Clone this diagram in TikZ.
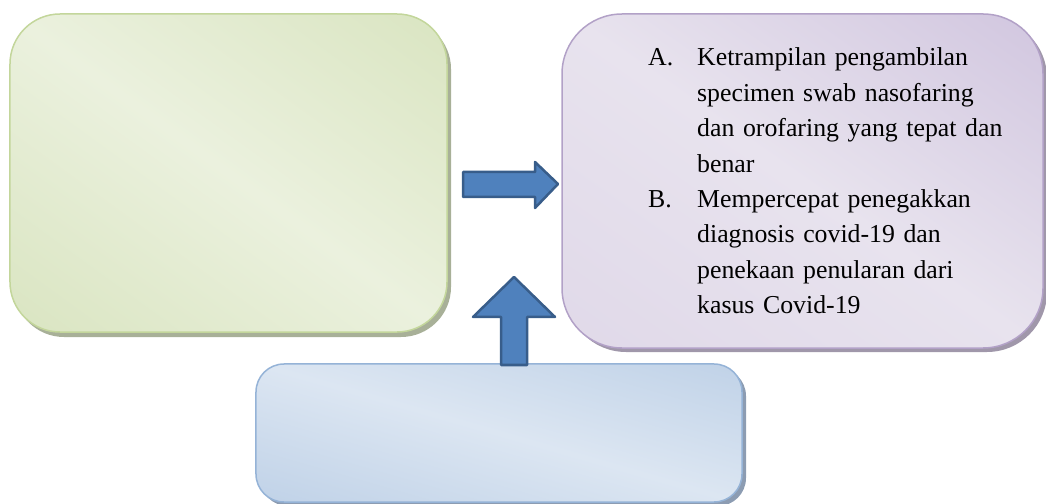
\documentclass[tikz,border=0pt]{standalone}
\usepackage{fontspec}
\setmainfont{Liberation Serif}
\usetikzlibrary{shadows}
\definecolor{gLight}{HTML}{EBF1DE}
\definecolor{gDark}{HTML}{C9D9A6}
\definecolor{gLine}{HTML}{C3D69B}
\definecolor{gShadow}{HTML}{A8B098}
\definecolor{pLight}{HTML}{E8E3EE}
\definecolor{pDark}{HTML}{BBAAD1}
\definecolor{pLine}{HTML}{B2A1C7}
\definecolor{pShadow}{HTML}{A097AA}
\definecolor{bLight}{HTML}{DCE6F2}
\definecolor{bDark}{HTML}{A4BEDD}
\definecolor{bLine}{HTML}{95B3D7}
\definecolor{bShadow}{HTML}{8C9CB2}
\definecolor{arrFill}{HTML}{4F81BD}
\definecolor{arrLine}{HTML}{385D8A}
\tikzset{
  panel/.style={draw, line width=1.5bp, inner sep=0pt},
  diagshade/.style n args={5}{path picture={%
    \shade[transform canvas={rotate around={#1:(path picture bounding box.center)}},
      top color=#3, bottom color=#4, middle color=#5]
      (path picture bounding box.center) ++(-#2,-#2) rectangle ++(2*#2,2*#2);}},
  greenbox/.style={panel, draw=gLine, diagshade={-36}{500}{gDark}{gDark}{gLight},
    rounded corners=50bp, minimum width=437bp, minimum height=318bp,
    drop shadow={shadow xshift=4bp, shadow yshift=-5bp, fill=gShadow, opacity=1}},
  purplebox/.style={panel, draw=pLine, diagshade={-35}{540}{pDark}{pLight!65!pDark}{pLight},
    rounded corners=60bp, minimum width=481bp, minimum height=334bp,
    drop shadow={shadow xshift=4bp, shadow yshift=-4bp, fill=pShadow, opacity=1}},
  bluebox/.style={panel, draw=bLine, diagshade={-16}{265}{bDark}{bDark}{bLight},
    rounded corners=28bp, minimum width=486bp, minimum height=138bp,
    drop shadow={shadow xshift=4bp, shadow yshift=-4bp, fill=bShadow, opacity=1}},
  blockarrow/.style={draw=arrLine, fill=arrFill, line width=2.5bp, line join=round},
  listtext/.style={inner sep=0pt, text width=390bp, align=left,
    font=\fontsize{25.8bp}{35.4bp}\selectfont, text=black}
}
\newcommand{\itemlab}[1]{\makebox[49bp][l]{#1}}
\newcommand{\indentline}{\hspace*{49bp}}
\begin{document}
\begin{tikzpicture}[x=1bp,y=-1bp]
\useasboundingbox (0,0) rectangle (1046,504);
\node[greenbox] (green) at (228.5,173) {};
\node[purplebox] (purple) at (802.5,181) {};
\node[bluebox] (blue) at (499,433) {};
% right block arrow
\coordinate (rtip) at (558,184);
\draw[blockarrow] (463,172) -- (535,172) -- (535,162) -- (rtip) -- (535,208) -- (535,197) -- (463,197) -- cycle;
% up block arrow
\coordinate (utip) at (514,277);
\draw[blockarrow] (501,365) -- (501,317) -- (473,317) -- (utip) -- (555,317) -- (527,317) -- (527,365) -- cycle;
\node[listtext, anchor=base west] (items) at (648,66) {%
\itemlab{A.}Ketrampilan pengambilan\\
\indentline specimen swab nasofaring\\
\indentline dan orofaring yang tepat dan\\
\indentline benar\\
\itemlab{B.}Mempercepat penegakkan\\
\indentline diagnosis covid-19 dan\\
\indentline penekaan penularan dari\\
\indentline kasus Covid-19};
\end{tikzpicture}
\end{document}
